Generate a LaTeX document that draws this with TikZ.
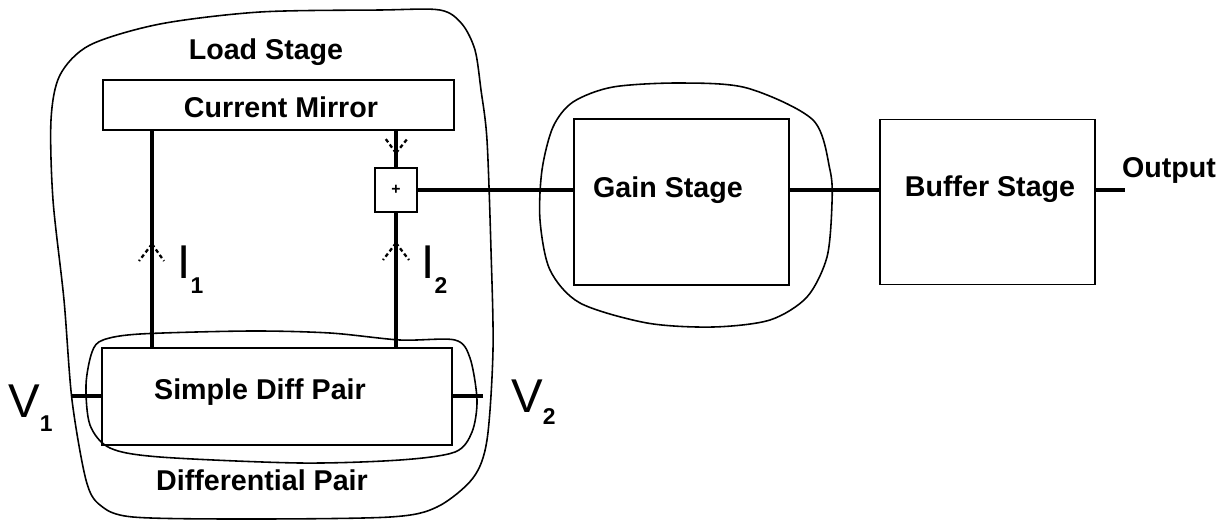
\documentclass[tikz,border=0pt]{standalone}
\usepackage{fontspec}
\setmainfont{Liberation Sans}
\usetikzlibrary{positioning}
\tikzset{
  blk/.style={draw, line width=1.1pt, inner sep=0pt},
  wire/.style={line width=2.3pt},
  blob/.style={line width=0.9pt},
  chev/.style={line width=1.3pt, dash pattern=on 2.2pt off 1.6pt},
  lbl/.style={font=\fontsize{16.3}{19}\selectfont\bfseries, inner sep=0pt},
  big/.style={font=\fontsize{27}{30}\selectfont, inner sep=0pt, anchor=base west}
}
\newcommand{\bigsub}[2][8pt]{\raisebox{-#1}{\fontsize{13}{13}\selectfont\bfseries #2}}

\begin{document}
\begin{tikzpicture}[x=0.02cm, y=-0.02cm]
\useasboundingbox (0,0) rectangle (1228,525);

% blocks
\node[blk, minimum width=7.02cm, minimum height=1cm] (cm) at (278.5,105) {};
\node[blk, minimum width=7cm, minimum height=1.94cm] (dp) at (277,396.5) {};
\node[blk, minimum width=0.84cm, minimum height=0.88cm] (plus) at (396,190) {\bfseries\small +};
\node[blk, minimum width=4.3cm, minimum height=3.32cm] (gain) at (681.5,202) {};
\node[blk, minimum width=4.3cm, minimum height=3.3cm, right=1.78cm of gain.east, anchor=west] (buf) {};

% texts
\node[lbl] (loadtxt) at (266,52) {Load Stage};
\node[lbl] (cmtxt) at (281,107) {Current Mirror};
\node[lbl] (dptxt) at (260,392) {Simple Diff Pair};
\node[lbl] (dpairtxt) at (262,480) {Differential Pair};
\node[lbl] (gaintxt) at (668,190) {Gain Stage};
\node[lbl] (buftxt) at (990,189) {Buffer Stage};
\node[lbl] (outtxt) at (1169,170) {Output};
\node[big] (v1) at (8,417) {V\bigsub{1}};
\node[big] (v2) at (511,412) {V\bigsub[7pt]{2}};
\node[big] (i1) at (177,278) {I\bigsub[9pt]{1}};
\node[big] (i2) at (421,278) {I\bigsub[9pt]{2}};

% wires
\coordinate (lx) at (152,250);
\coordinate (v1w) at (71,396);
\coordinate (v2e) at (483,396);
\draw[wire] (lx |- cm.south) -- (lx |- dp.north);
\draw[wire] (plus.north) -- (plus.north |- cm.south);
\draw[wire] (plus.south) -- (plus.south |- dp.north);
\draw[wire] (plus.east) -- (plus.east -| gain.west);
\draw[wire] (plus -| gain.east) -- (plus -| buf.west);
\draw[wire] (plus -| buf.east) -- ++(29,0) coordinate (out);
\draw[wire] (v1w) -- (v1w -| dp.west);
\draw[wire] (v2e) -- (v2e -| dp.east);

% current arrows
\draw[chev] (152,244) -- ++(-13,17);
\draw[chev] (152,244) -- ++(12,17);
\draw[chev] (396,243) -- ++(-13,17);
\draw[chev] (396,243) -- ++(13,17);
\draw[chev] (396,153) -- ++(-11,-15);
\draw[chev] (396,153) -- ++(12,-15);

% hand drawn outlines
\draw[blob] plot[smooth cycle, tension=0.5] coordinates {(60,75) (90,45) (160,24) (260,12) (380,10) (440,10) (462,24) (475,50) (481,90) (487,140) (491,250) (493,350) (487,440) (473,478) (437,507) (390,517) (250,519) (133,517) (100,505) (86,480) (72,400) (64,300) (53,200) (51,120)};
\draw[blob] plot[smooth cycle, tension=0.5] coordinates {(103,340) (140,334) (250,331) (330,333) (400,340) (455,340) (470,358) (477,400) (472,432) (455,452) (400,460) (300,463) (160,457) (110,448) (90,425) (86,385) (92,352)};
\draw[blob] plot[smooth cycle, tension=0.5] coordinates {(573,102) (613,87) (680,83) (747,88) (813,120) (830,170) (832,203) (827,257) (807,297) (770,320) (713,327) (647,323) (580,303) (550,270) (540,220) (542,170) (553,127)};
\end{tikzpicture}
\end{document}
